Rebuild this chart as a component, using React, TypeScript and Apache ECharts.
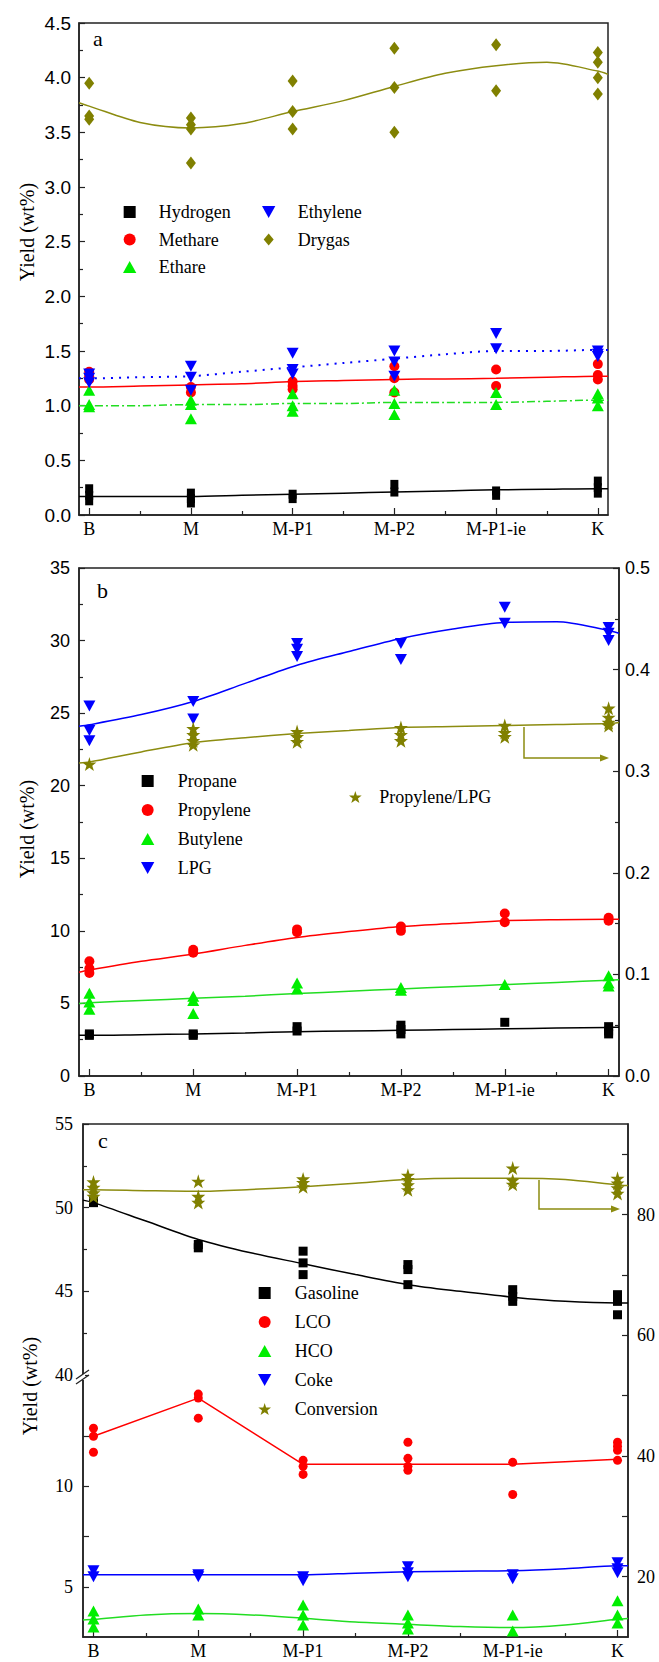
import React, { useEffect, useRef } from 'react';
import * as echarts from 'echarts';

const categories = ['B', 'M', 'M-P1', 'M-P2', 'M-P1-ie', 'K'];
const fitX = [-0.1, 0, 0.5, 1, 1.5, 2, 2.5, 3, 3.5, 4, 4.5, 5, 5.1];

// ---- Panel a: dry gas (wt%) ----
const hydrogenA = [[0.24, 0.18, 0.13], [0.2, 0.15, 0.11], [0.19, 0.15], [0.28, 0.21], [0.22, 0.18], [0.31, 0.25, 0.2]];
const methaneA = [[1.31, 1.27, 1.24], [1.17, 1.12], [1.22, 1.18, 1.15], [1.36, 1.25, 1.12], [1.33, 1.18], [1.38, 1.28, 1.24]];
const ethaneA = [[1.14, 1.01, 0.99], [1.05, 1.01, 0.88], [1.11, 1.0, 0.95], [1.14, 1.02, 0.92], [1.12, 1.01], [1.11, 1.07, 1.0]];
const ethyleneA = [[1.29, 1.25, 1.21], [1.36, 1.26, 1.14], [1.48, 1.33, 1.29], [1.5, 1.4, 1.27], [1.66, 1.52], [1.5, 1.47, 1.45]];
const drygasA = [[3.95, 3.65, 3.62], [3.63, 3.57, 3.53, 3.22], [3.97, 3.69, 3.53], [4.27, 3.91, 3.5], [4.3, 3.88], [4.23, 4.14, 4.0, 3.85]];
const hydrogenFitA = [0.17, 0.17, 0.17, 0.17, 0.18, 0.19, 0.2, 0.21, 0.22, 0.23, 0.235, 0.24, 0.24];
const methaneFitA = [1.17, 1.17, 1.18, 1.19, 1.2, 1.22, 1.23, 1.24, 1.245, 1.25, 1.26, 1.27, 1.27];
const ethaneFitA = [1.0, 1.0, 1.0, 1.01, 1.01, 1.02, 1.02, 1.03, 1.03, 1.03, 1.04, 1.05, 1.05];
const ethyleneFitA = [1.25, 1.25, 1.26, 1.27, 1.31, 1.35, 1.39, 1.43, 1.47, 1.5, 1.5, 1.51, 1.51];
const drygasFitA = [3.77, 3.74, 3.59, 3.54, 3.58, 3.69, 3.79, 3.92, 4.04, 4.11, 4.14, 4.06, 4.03];

// ---- Panel b: LPG (wt%) ----
const propaneB = [[2.9, 2.8], [2.9, 2.8], [3.4, 3.1], [3.5, 3.2, 2.9], [3.7], [3.4, 3.1, 2.9]];
const propyleneB = [[7.9, 7.4, 7.1], [8.7, 8.5], [10.1, 9.9], [10.3, 10.0], [11.2, 10.6], [10.9, 10.7]];
const butyleneB = [[5.7, 5.1, 4.6], [5.5, 5.2, 4.3], [6.4, 6.0], [6.1, 5.9], [6.3], [6.9, 6.4, 6.2]];
const lpgB = [[25.5, 23.8, 23.1], [25.8, 24.6], [29.8, 29.4, 28.9], [29.8, 28.7], [32.3, 31.2], [30.9, 30.5, 30.0]];
const ratioB = [[0.307], [0.342, 0.336, 0.33, 0.326], [0.339, 0.334, 0.329], [0.343, 0.336, 0.33], [0.345, 0.338, 0.334], [0.362, 0.353, 0.348, 0.345]];
const propaneFitB = [2.8, 2.8, 2.85, 2.9, 2.97, 3.05, 3.1, 3.15, 3.2, 3.25, 3.3, 3.35, 3.36];
const propyleneFitB = [7.15, 7.3, 7.9, 8.4, 9.0, 9.55, 9.95, 10.3, 10.5, 10.7, 10.77, 10.8, 10.8];
const butyleneFitB = [5.0, 5.05, 5.2, 5.35, 5.5, 5.68, 5.84, 6.0, 6.15, 6.3, 6.45, 6.6, 6.63];
const lpgFitB = [24.1, 24.2, 24.9, 25.8, 27.05, 28.3, 29.25, 30.15, 30.8, 31.25, 31.3, 30.7, 30.5];
const ratioFitB = [0.308, 0.309, 0.319, 0.328, 0.333, 0.337, 0.34, 0.343, 0.344, 0.345, 0.346, 0.347, 0.348];

// ---- Panel c: liquid products (wt%) and conversion ----
const gasolineC = [[50.5, 50.3], [47.8, 47.6], [47.4, 46.7, 46.0], [46.6, 46.3, 45.4], [45.1, 44.7, 44.4], [44.8, 44.4, 43.6]];
const lcoC = [[12.9, 12.5, 11.7], [14.6, 14.4, 13.4], [11.3, 11.0, 10.6], [12.2, 11.4, 11.0, 10.8], [11.2, 9.6], [12.2, 12.0, 11.8, 11.3]];
const hcoC = [[3.8, 3.4, 3.0], [3.9, 3.6], [4.1, 3.6, 3.1], [3.6, 3.2, 2.9], [3.6, 2.8], [4.3, 3.6, 3.2]];
const cokeC = [[5.8, 5.5], [5.6, 5.5], [5.5, 5.3], [6.0, 5.7, 5.5], [5.6, 5.4], [6.2, 5.9, 5.7]];
const conversionC = [[85.4, 84.5, 83.6, 83.0], [85.5, 83.0, 82.0], [85.9, 85.3, 84.6], [86.5, 85.8, 84.9, 84.1], [87.7, 85.7, 85.0], [86.0, 85.2, 84.4, 83.5]];
const gasolineFitC = [50.45, 50.3, 49.2, 48.1, 47.3, 46.65, 46.0, 45.4, 45.0, 44.65, 44.4, 44.3, 44.3];
const cokeFitC = [5.6, 5.6, 5.6, 5.6, 5.6, 5.6, 5.68, 5.75, 5.78, 5.8, 5.9, 6.05, 6.05];
const hcoFitC = [3.35, 3.38, 3.6, 3.67, 3.6, 3.43, 3.25, 3.13, 3.02, 2.97, 3.1, 3.38, 3.42];
const conversionFitC = [84.1, 84.1, 83.95, 83.85, 84.15, 84.6, 85.2, 85.8, 86.0, 86.0, 85.8, 84.9, 84.8];
const lcoLineX = [0, 1, 2, 3, 4, 5];
const lcoLineC = [12.5, 14.4, 11.1, 11.1, 11.1, 11.35];

const catTicks = [0, 1, 2, 3, 4, 5];
const halfTicks = [0.5, 1.5, 2.5, 3.5, 4.5];
const cLowerLabels = [5, 10];
const cLowerTicks = [5, 7.5, 10, 12.5];
const cRightLabels = [20, 40, 60, 80];
const cRightTicks = [20, 30, 40, 50, 60, 70, 80, 90];

const OLIVE = '#808000';
const RED = '#ff0000';
const GREEN = '#00ee00';
const BLUE = '#0000ff';
const BLACK = '#000000';
const AX = '#222222';
const SERIF = '"Liberation Serif", "Times New Roman", serif';
const SANS = '"Liberation Sans", Arial, sans-serif';

const SQ = 'path://M0,0H10V10H0Z';
const CIRC = 'path://M5,0A5,5,0,1,1,5,10A5,5,0,1,1,5,0Z';
const TRI = 'path://M5,0L10,9L0,9Z';
const DTRI = 'path://M0,0L10,0L5,9Z';
const DIAM = 'path://M5,0L10,6L5,12L0,6Z';
const STAR = 'path://M50,0L61,35L98,35L70,57L81,91L50,70L19,91L30,57L2,35L39,35Z';

const pts = (groups: number[][]) => groups.flatMap((g, i) => g.map((v) => [i, v]));
const fit = (vals: number[]) => fitX.map((x, i) => [x, vals[i]]);

function scatter(name: string, data: number[][], symbol: string, size: number[], color: string, xi: number, yi: number) {
  return { type: 'scatter', name, data, symbol, symbolSize: size, itemStyle: { color, opacity: 1 }, xAxisIndex: xi, yAxisIndex: yi, z: 4, silent: true };
}
function fitLine(name: string, data: number[][], color: string, xi: number, yi: number, type: any = 'solid', width = 1.5, smooth: any = 0.3) {
  return { type: 'line', name, data, smooth, showSymbol: false, symbol: 'none', lineStyle: { color, width, type }, xAxisIndex: xi, yAxisIndex: yi, z: 3, silent: true };
}

const tickLine = { color: AX, width: 1.2 };
function xMain(grid: number, fontFamily: string) {
  return {
    type: 'value', gridIndex: grid, position: 'bottom', min: -0.1, max: 5.1,
    axisLine: { show: true, onZero: false, lineStyle: { color: AX, width: 1.5 } },
    axisTick: { show: true, inside: true, length: 7, customValues: catTicks, lineStyle: tickLine },
    axisLabel: { customValues: catTicks, formatter: (v: number) => categories[Math.round(v)] ?? '', fontFamily, fontSize: 18, color: '#000', margin: 5 },
    splitLine: { show: false },
  };
}
function xMinor(grid: number) {
  return {
    type: 'value', gridIndex: grid, position: 'bottom', min: -0.1, max: 5.1,
    axisLine: { show: false, onZero: false },
    axisTick: { show: true, inside: true, length: 4, customValues: halfTicks, lineStyle: tickLine },
    axisLabel: { show: false }, splitLine: { show: false },
  };
}
function xHidden(grid: number) {
  return { type: 'value', gridIndex: grid, min: -0.1, max: 5.1, show: false, axisLine: { onZero: false }, splitLine: { show: false } };
}
function yAx(grid: number, position: string, min: number, max: number, extra: any, label: any) {
  return {
    type: 'value', gridIndex: grid, position, min, max,
    axisLine: { show: true, onZero: false, lineStyle: { color: AX, width: 1.5 } },
    axisTick: { show: true, inside: true, length: 6, lineStyle: tickLine },
    minorTick: { show: false },
    splitLine: { show: false },
    ...extra,
    axisLabel: { color: '#000', fontSize: 18, ...label },
  };
}

const legendText = { fontFamily: SERIF, fontSize: 18, color: '#000', lineHeight: 18 };
function legend(left: number, top: number, width: number, gap: number, data: any[]) {
  return { orient: 'vertical', left, top, itemWidth: width, itemHeight: 12, itemGap: gap, padding: 0, selectedMode: false, symbolKeepAspect: true, textStyle: legendText, data };
}

const option: any = {
  animation: false,
  backgroundColor: '#ffffff',
  grid: [
    { left: 79, top: 23, width: 529, height: 492, show: true, borderColor: AX, borderWidth: 1.5, backgroundColor: 'transparent' },
    { left: 79, top: 568, width: 540, height: 508, show: true, borderColor: AX, borderWidth: 1.5, backgroundColor: 'transparent' },
    { left: 83, top: 1124, width: 545, height: 513, show: true, borderColor: AX, borderWidth: 1.5, backgroundColor: 'transparent' },
    { left: 83, top: 1124, width: 545, height: 251 },
    { left: 83, top: 1375, width: 545, height: 262 },
  ],
  xAxis: [xMain(0, SERIF), xMinor(0), xMain(1, SERIF), xMinor(1), xHidden(2), xHidden(3), xMain(4, SERIF), xMinor(4)],
  yAxis: [
    yAx(0, 'left', 0, 4.5, { interval: 0.5, minorTick: { show: true, splitNumber: 2, length: 4, lineStyle: tickLine } },
      { fontFamily: SANS, fontSize: 19, margin: 8, formatter: (v: number) => v.toFixed(1) }),
    yAx(1, 'left', 0, 35, { interval: 5, minorTick: { show: true, splitNumber: 2, length: 4, lineStyle: tickLine } },
      { fontFamily: SANS, margin: 9 }),
    yAx(1, 'right', 0, 0.5, { interval: 0.1, minorTick: { show: true, splitNumber: 2, length: 4, lineStyle: tickLine } },
      { fontFamily: SANS, margin: 6, formatter: (v: number) => v.toFixed(1) }),
    yAx(2, 'right', 10, 95, { axisTick: { show: true, inside: true, length: 6, customValues: cRightTicks, lineStyle: tickLine } },
      { fontFamily: SERIF, margin: 9, customValues: cRightLabels }),
    yAx(3, 'left', 40, 55, { interval: 5, minorTick: { show: true, splitNumber: 2, length: 4, lineStyle: tickLine } },
      { fontFamily: SERIF, margin: 10 }),
    yAx(4, 'left', 2.5, 15.55, { axisTick: { show: true, inside: true, length: 6, customValues: cLowerTicks, lineStyle: tickLine } },
      { fontFamily: SERIF, margin: 10, customValues: cLowerLabels }),
  ],
  legend: [
    legend(123, 203, 48, 9.5, [{ name: 'Hydrogen', icon: SQ }, { name: 'Methare', icon: CIRC }, { name: 'Ethare', icon: TRI }]),
    legend(262, 203, 48, 9.5, [{ name: 'Ethylene', icon: DTRI }, { name: 'Drygas', icon: DIAM }]),
    legend(141, 772, 50, 11, [{ name: 'Propane', icon: SQ }, { name: 'Propylene', icon: CIRC }, { name: 'Butylene', icon: TRI }, { name: 'LPG', icon: DTRI }]),
    legend(349, 788, 38, 11, [{ name: 'Propylene/LPG', icon: STAR }]),
    legend(258, 1284, 50, 11, [{ name: 'Gasoline', icon: SQ }, { name: 'LCO', icon: CIRC }, { name: 'HCO', icon: TRI }, { name: 'Coke', icon: DTRI }, { name: 'Conversion', icon: STAR }]),
  ],
  series: [
    // panel a fits
    fitLine('fit-h', fit(hydrogenFitA), BLACK, 0, 0),
    fitLine('fit-me', fit(methaneFitA), RED, 0, 0),
    fitLine('fit-et', fit(ethaneFitA), '#22dd22', 0, 0, [8, 3, 2, 3], 1.5),
    fitLine('fit-ey', fit(ethyleneFitA), BLUE, 0, 0, [2, 6], 2),
    fitLine('fit-dg', fit(drygasFitA), '#8c8c10', 0, 0),
    // panel a points
    scatter('Hydrogen', pts(hydrogenA), SQ, [8, 9], BLACK, 0, 0),
    scatter('Methare', pts(methaneA), CIRC, [10, 10], RED, 0, 0),
    scatter('Ethare', pts(ethaneA), TRI, [12, 11], GREEN, 0, 0),
    scatter('Ethylene', pts(ethyleneA), DTRI, [12, 11], BLUE, 0, 0),
    scatter('Drygas', pts(drygasA), DIAM, [10, 13], OLIVE, 0, 0),
    // panel b fits
    fitLine('fit-pa', fit(propaneFitB), BLACK, 2, 1),
    fitLine('fit-py', fit(propyleneFitB), RED, 2, 1),
    fitLine('fit-bu', fit(butyleneFitB), '#22dd22', 2, 1),
    fitLine('fit-lpg', fit(lpgFitB), BLUE, 2, 1),
    fitLine('fit-ratio', fit(ratioFitB), '#8c8c10', 2, 2),
    // panel b points
    scatter('Propane', pts(propaneB), SQ, [9, 9], BLACK, 2, 1),
    scatter('Propylene', pts(propyleneB), CIRC, [10, 10], RED, 2, 1),
    scatter('Butylene', pts(butyleneB), TRI, [12, 11], GREEN, 2, 1),
    scatter('LPG', pts(lpgB), DTRI, [12, 11], BLUE, 2, 1),
    scatter('Propylene/LPG', pts(ratioB), STAR, [14, 14], OLIVE, 2, 2),
    // panel c fits
    fitLine('fit-conv', fit(conversionFitC), '#8c8c10', 4, 3),
    fitLine('fit-gas', fit(gasolineFitC), BLACK, 5, 4),
    fitLine('fit-lco', lcoLineX.map((x, i) => [x, lcoLineC[i]]), RED, 6, 5, 'solid', 1.5, false),
    fitLine('fit-coke', fit(cokeFitC), BLUE, 6, 5),
    fitLine('fit-hco', fit(hcoFitC), '#22dd22', 6, 5),
    // panel c points
    scatter('Gasoline', pts(gasolineC), SQ, [9, 9], BLACK, 5, 4),
    scatter('LCO', pts(lcoC), CIRC, [9, 9], RED, 6, 5),
    scatter('HCO', pts(hcoC), TRI, [12, 11], GREEN, 6, 5),
    scatter('Coke', pts(cokeC), DTRI, [12, 11], BLUE, 6, 5),
    scatter('Conversion', pts(conversionC), STAR, [14, 14], OLIVE, 4, 3),
  ],
  graphic: [
    { type: 'text', x: 93, y: 38, style: { text: 'a', font: `22px ${SERIF}`, fill: '#000', verticalAlign: 'middle' } },
    { type: 'text', x: 97, y: 590, style: { text: 'b', font: `22px ${SERIF}`, fill: '#000', verticalAlign: 'middle' } },
    { type: 'text', x: 98, y: 1140, style: { text: 'c', font: `22px ${SERIF}`, fill: '#000', verticalAlign: 'middle' } },
    { type: 'text', x: 27, y: 232, rotation: Math.PI / 2, style: { text: 'Yield (wt%)', font: `20px ${SERIF}`, fill: '#000', align: 'center', verticalAlign: 'middle' } },
    { type: 'text', x: 27, y: 829, rotation: Math.PI / 2, style: { text: 'Yield (wt%)', font: `20px ${SERIF}`, fill: '#000', align: 'center', verticalAlign: 'middle' } },
    { type: 'text', x: 30, y: 1386, rotation: Math.PI / 2, style: { text: 'Yield (wt%)', font: `20px ${SERIF}`, fill: '#000', align: 'center', verticalAlign: 'middle' } },
    // arrows towards the right axes
    { type: 'polyline', shape: { points: [[524, 727], [524, 758], [603, 758]] }, style: { stroke: '#8c8c10', lineWidth: 1.5, fill: 'none' } },
    { type: 'polygon', shape: { points: [[609, 758], [600, 754.5], [600, 761.5]] }, style: { fill: '#8c8c10' } },
    { type: 'polyline', shape: { points: [[539, 1180], [539, 1209], [614, 1209]] }, style: { stroke: '#8c8c10', lineWidth: 1.5, fill: 'none' } },
    { type: 'polygon', shape: { points: [[620, 1209], [611, 1205.5], [611, 1212.5]] }, style: { fill: '#8c8c10' } },
    // axis break marks
    { type: 'rect', shape: { x: 81, y: 1374, width: 4, height: 6 }, style: { fill: '#fff' }, z: 100 },
    { type: 'line', shape: { x1: 76, y1: 1379, x2: 89, y2: 1370 }, style: { stroke: AX, lineWidth: 1.3 }, z: 101 },
    { type: 'line', shape: { x1: 76, y1: 1384, x2: 89, y2: 1375 }, style: { stroke: AX, lineWidth: 1.3 }, z: 101 },
  ],
};

export default function App() {
  const ref = useRef<HTMLDivElement>(null);
  useEffect(() => {
    if (!ref.current) return;
    const chart = echarts.init(ref.current, null, { renderer: 'svg' });
    chart.setOption(option);
    return () => chart.dispose();
  }, []);
  return <div ref={ref} style={{ position: 'absolute', left: 0, top: 0, width: 659, height: 1662, background: '#fff' }} />;
}
